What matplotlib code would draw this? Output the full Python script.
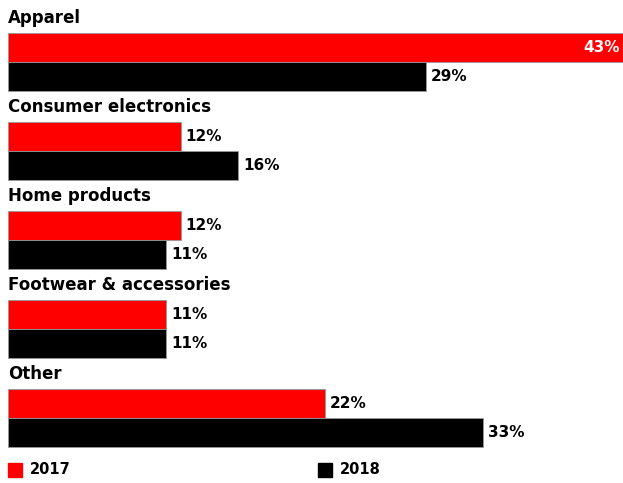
import matplotlib.pyplot as plt
from matplotlib.patches import Rectangle

categories = ['Apparel', 'Consumer electronics', 'Home products',
              'Footwear & accessories', 'Other']
vals_2017 = [43, 12, 12, 11, 22]
vals_2018 = [29, 16, 11, 11, 33]
years = ['2017', '2018']
colors = ['#ff0000', '#000000']

W, H = 623, 483
fig = plt.figure(figsize=(W / 100, H / 100), dpi=100)
px_per_pct = 14.4
left = 8
ax = fig.add_axes([left / W, 0, (W - left) / W, 1])
ax.set_xlim(0, (W - left) / px_per_pct)
ax.set_ylim(H, 0)
ax.axis('off')

group_top = 33
group_step = 89
bar_h = 29

for i, cat in enumerate(categories):
    top = group_top + group_step * i
    ax.text(0, top - 15, cat, fontsize=12, fontweight='bold', va='center', ha='left')
    for j, v in enumerate([vals_2017[i], vals_2018[i]]):
        yc = top + bar_h * j + bar_h / 2
        ax.barh(yc, v, height=bar_h, color=colors[j], edgecolor='#999999', linewidth=0.6)
        if v > 40:
            ax.text((W - left - 3) / px_per_pct, yc, f'{v}%', fontsize=11, fontweight='bold',
                    color='white', va='center', ha='right')
        else:
            ax.text(v + 5 / px_per_pct, yc, f'{v}%', fontsize=11, fontweight='bold',
                    color='black', va='center', ha='left')

# legend
leg_y = 470
for j, (yr, x0) in enumerate(zip(years, [8, 318])):
    fig.patches.append(Rectangle((x0 / W, 1 - (leg_y + 7) / H), 14 / W, 14 / H,
                                 transform=fig.transFigure, color=colors[j]))
    fig.text((x0 + 22) / W, 1 - leg_y / H, yr, fontsize=10.5, fontweight='bold',
             va='center', ha='left')

fig.savefig('out.png', dpi=100)
